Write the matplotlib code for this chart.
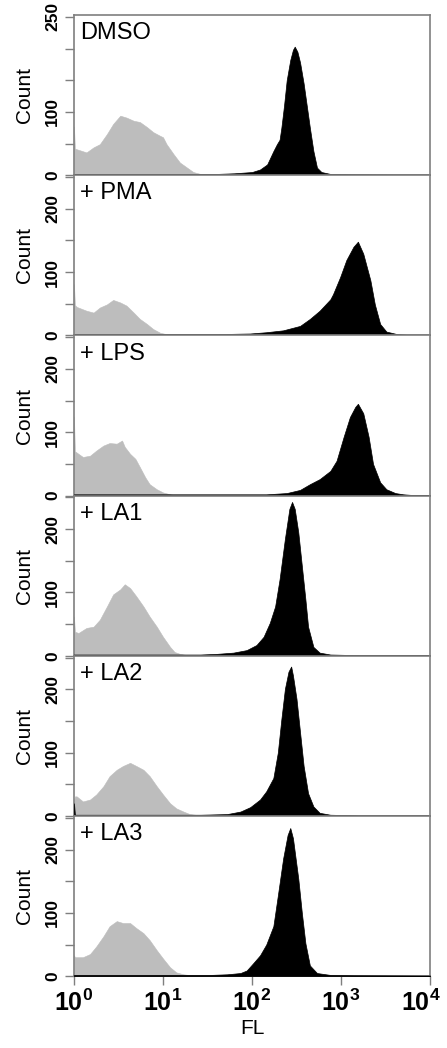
import numpy as np
import matplotlib
matplotlib.use("Agg")
import matplotlib.pyplot as plt
import matplotlib.transforms as mtransforms

plt.rcParams['font.family'] = ['Liberation Sans', 'DejaVu Sans']
plt.rcParams['mathtext.fontset'] = 'custom'
plt.rcParams['mathtext.bf'] = 'Liberation Sans:bold'
plt.rcParams['mathtext.rm'] = 'Liberation Sans'

# ---------------- data (log10 FL positions and counts) ----------------
panel_labels = ["DMSO", "+ PMA", "+ LPS", "+ LA1", "+ LA2", "+ LA3"]

dmso_ctrl_logfl = [0.0, 0.01, 0.03, 0.14, 0.22, 0.29, 0.37, 0.44, 0.52, 0.59, 0.67, 0.74, 0.82, 0.89, 0.97, 1.00, 1.04, 1.12, 1.19, 1.27, 1.34, 1.42, 1.5]
dmso_ctrl_count = [77, 42, 41, 36, 44, 49, 65, 81, 94, 91, 86, 84, 76, 68, 62, 60, 49, 33, 20, 12, 5, 2, 0]
dmso_samp_logfl = [0.0, 0.5, 1.0, 1.42, 1.6, 1.8, 2.0, 2.09, 2.17, 2.24, 2.28, 2.31, 2.33, 2.36, 2.39, 2.43, 2.46, 2.48, 2.51, 2.54, 2.58, 2.61, 2.65, 2.69, 2.73, 2.78, 2.88, 3.1, 3.6, 4.0]
dmso_samp_count = [2, 2, 2, 2, 2, 3, 5, 9, 17, 38, 49, 56, 75, 110, 150, 182, 198, 203, 195, 178, 145, 115, 75, 38, 12, 5, 2, 1.5, 1, 1]

pma_ctrl_logfl = [0.0, 0.01, 0.03, 0.14, 0.22, 0.29, 0.37, 0.44, 0.52, 0.59, 0.67, 0.74, 0.82, 0.89, 0.97, 1.04, 1.12, 1.2]
pma_ctrl_count = [81, 48, 45, 39, 36, 44, 49, 56, 52, 47, 36, 26, 18, 10, 4, 2, 1, 0]
pma_samp_logfl = [0.0, 0.5, 1.0, 1.6, 1.98, 2.16, 2.35, 2.54, 2.65, 2.76, 2.88, 2.91, 2.99, 3.06, 3.14, 3.19, 3.25, 3.33, 3.38, 3.44, 3.51, 3.63, 3.74, 4.0]
pma_samp_count = [2, 2, 2, 2, 3, 5, 8, 15, 26, 39, 57, 65, 92, 119, 140, 148, 129, 87, 49, 18, 6, 2, 1, 1]

lps_ctrl_logfl = [0.0, 0.01, 0.05, 0.10, 0.18, 0.25, 0.33, 0.40, 0.48, 0.54, 0.57, 0.63, 0.69, 0.74, 0.80, 0.85, 0.93, 1.00, 1.08, 1.15]
lps_ctrl_count = [125, 70, 66, 61, 63, 71, 79, 83, 82, 87, 77, 66, 58, 45, 29, 18, 10, 5, 2, 0]
lps_samp_logfl = [0.0, 0.5, 1.0, 1.79, 2.16, 2.39, 2.54, 2.65, 2.76, 2.88, 2.95, 3.03, 3.10, 3.16, 3.19, 3.25, 3.31, 3.36, 3.44, 3.51, 3.61, 3.70, 3.8, 4.0]
lps_samp_count = [2, 2, 2, 2, 2, 4, 9, 18, 26, 39, 55, 93, 124, 140, 145, 130, 93, 50, 21, 10, 4, 2, 1, 1]

la1_ctrl_logfl = [0.0, 0.01, 0.05, 0.14, 0.22, 0.29, 0.37, 0.44, 0.52, 0.57, 0.63, 0.70, 0.78, 0.85, 0.93, 1.00, 1.08, 1.13, 1.19, 1.27, 1.35]
la1_ctrl_count = [62, 38, 36, 44, 46, 57, 78, 97, 105, 113, 107, 94, 78, 62, 46, 30, 14, 6, 3, 1, 0]
la1_samp_logfl = [0.0, 0.5, 1.0, 1.42, 1.6, 1.79, 1.94, 2.05, 2.13, 2.2, 2.26, 2.31, 2.37, 2.42, 2.45, 2.48, 2.52, 2.56, 2.6, 2.63, 2.69, 2.76, 2.88, 3.2, 4.0]
la1_samp_count = [2, 2, 2, 2, 3, 5, 9, 17, 30, 52, 78, 121, 185, 232, 243, 232, 195, 142, 89, 46, 14, 5, 2, 1, 1]

la2_ctrl_logfl = [0.0, 0.01, 0.03, 0.10, 0.18, 0.25, 0.33, 0.40, 0.48, 0.55, 0.63, 0.70, 0.78, 0.85, 0.93, 1.00, 1.08, 1.15, 1.23, 1.30, 1.42, 1.5]
la2_ctrl_count = [23, 31, 31, 23, 26, 34, 47, 63, 73, 79, 84, 79, 73, 63, 47, 34, 20, 12, 7, 3, 1, 0]
la2_samp_logfl = [0.0, 0.01, 0.5, 1.0, 1.42, 1.72, 1.87, 1.98, 2.09, 2.16, 2.24, 2.29, 2.33, 2.37, 2.41, 2.44, 2.46, 2.5, 2.54, 2.58, 2.63, 2.69, 2.76, 2.88, 3.2, 4.0]
la2_samp_count = [20, 2, 2, 2, 2, 3, 7, 14, 26, 39, 60, 100, 153, 201, 228, 236, 222, 185, 132, 79, 36, 15, 5, 2, 1, 1]

la3_ctrl_logfl = [0.0, 0.01, 0.03, 0.10, 0.18, 0.25, 0.33, 0.40, 0.48, 0.55, 0.63, 0.70, 0.78, 0.85, 0.93, 1.00, 1.08, 1.15, 1.23, 1.34, 1.45]
la3_ctrl_count = [33, 30, 30, 30, 35, 47, 63, 79, 87, 84, 84, 76, 68, 57, 41, 28, 14, 6, 3, 1, 0]
la3_samp_logfl = [0.0, 0.5, 1.0, 1.53, 1.72, 1.87, 1.94, 2.01, 2.09, 2.16, 2.24, 2.29, 2.35, 2.40, 2.43, 2.46, 2.52, 2.56, 2.60, 2.65, 2.73, 2.88, 3.14, 4.0]
la3_samp_count = [2, 2, 2, 2, 3, 5, 9, 20, 33, 50, 79, 127, 186, 223, 234, 218, 154, 100, 52, 17, 5, 2, 1.5, 1]

controls = [(dmso_ctrl_logfl, dmso_ctrl_count), (pma_ctrl_logfl, pma_ctrl_count),
            (lps_ctrl_logfl, lps_ctrl_count), (la1_ctrl_logfl, la1_ctrl_count),
            (la2_ctrl_logfl, la2_ctrl_count), (la3_ctrl_logfl, la3_ctrl_count)]
samples = [(dmso_samp_logfl, dmso_samp_count), (pma_samp_logfl, pma_samp_count),
           (lps_samp_logfl, lps_samp_count), (la1_samp_logfl, la1_samp_count),
           (la2_samp_logfl, la2_samp_count), (la3_samp_logfl, la3_samp_count)]

x_ticks = [1, 10, 100, 1000, 10000]
x_tick_labels = [r'$\mathbf{10^{0}}$', r'$\mathbf{10^{1}}$', r'$\mathbf{10^{2}}$',
                 r'$\mathbf{10^{3}}$', r'$\mathbf{10^{4}}$']
y_ticks = [0, 50, 100, 150, 200, 250]

# ---------------- figure ----------------
W, H = 447, 1048
fig = plt.figure(figsize=(W / 100, H / 100), dpi=100)

left_px, right_px = 74, 430
top_px = 15
panel_h = 160.2
spine_col = '#7f7f7f'

for i in range(6):
    top = top_px + i * panel_h
    ax = fig.add_axes([left_px / W, 1 - (top + panel_h) / H,
                       (right_px - left_px) / W, panel_h / H])
    cx, cy = controls[i]
    sx, sy = samples[i]
    ax.fill_between(10 ** np.array(cx), cy, 0, color='#bdbdbd', lw=0.4,
                    edgecolor='#bdbdbd', zorder=2)
    ax.fill_between(10 ** np.array(sx), sy, 0, color='black', lw=0.5,
                    edgecolor='black', zorder=3)
    ax.set_xscale('log')
    ax.set_xlim(1, 10000)
    ax.set_ylim(0, 253)
    for s in ax.spines.values():
        s.set_color(spine_col)
        s.set_linewidth(1.2)
    ax.set_yticks(y_ticks)
    if i == 0:
        ylabels = ['0', '', '100', '', '', '250']
    else:
        ylabels = ['0', '', '100', '', '200', '']
    ax.set_yticklabels(ylabels, rotation=90, va='center', fontweight='bold', fontsize=12.5)
    ax.tick_params(axis='y', direction='out', length=6.5, width=1.0, color=spine_col, pad=3.5)
    ax.xaxis.set_minor_locator(matplotlib.ticker.NullLocator())
    if i == 5:
        ax.set_xticks(x_ticks)
        ax.set_xticklabels(x_tick_labels, fontsize=18)
        ax.tick_params(axis='x', direction='out', length=6.5, width=1.0, color=spine_col, pad=3)
        last = ax.get_xticklabels()[-1]
        last.set_transform(last.get_transform() +
                           mtransforms.ScaledTranslation(-9 / 100, 0, fig.dpi_scale_trans))
        ax.set_xlabel('FL', fontsize=15, labelpad=2)
    else:
        ax.set_xticks([])
    ax.set_ylabel('Count', fontsize=15, labelpad=8)
    ax.text(0.017, 0.955, panel_labels[i], transform=ax.transAxes,
            fontsize=17, ha='left', va='top')

fig.savefig('out.png', dpi=100)
